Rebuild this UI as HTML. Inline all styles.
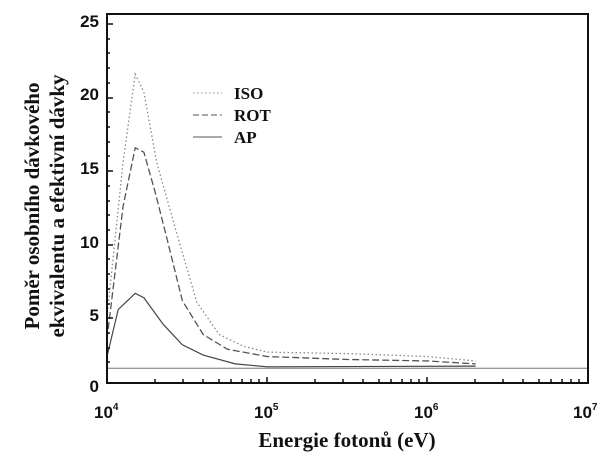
<!DOCTYPE html><html><head><style>body{margin:0;background:#fff}svg{display:block}</style></head><body>
<svg width="605" height="460" xmlns="http://www.w3.org/2000/svg">
<g font-family="Liberation Sans, sans-serif" font-weight="bold" font-size="17" fill="#111">
<text x="99" y="27" text-anchor="end">25</text>
<text x="99" y="100" text-anchor="end">20</text>
<text x="99" y="174" text-anchor="end">15</text>
<text x="99" y="248" text-anchor="end">10</text>
<text x="99" y="321" text-anchor="end">5</text>
<text x="99" y="392" text-anchor="end">0</text>
<text x="94" y="418">10<tspan font-size="10" dy="-8">4</tspan></text>
<text x="254" y="418">10<tspan font-size="10" dy="-8">5</tspan></text>
<text x="414" y="418">10<tspan font-size="10" dy="-8">6</tspan></text>
<text x="573" y="418">10<tspan font-size="10" dy="-8">7</tspan></text>
</g>
<g font-family="Liberation Serif, serif" font-weight="bold" font-size="21" fill="#111">
<text x="347" y="447" text-anchor="middle">Energie fotonů (eV)</text>
<text transform="translate(39,206) rotate(-90)" text-anchor="middle">Poměr osobního dávkového</text>
<text transform="translate(64,206) rotate(-90)" text-anchor="middle">ekvivalentu a efektivní dávky</text>
<text x="234" y="99" font-size="17">ISO</text>
<text x="234" y="121" font-size="17">ROT</text>
<text x="234" y="143" font-size="17">AP</text>
</g>
<g stroke="#555" fill="none">
<line x1="193" y1="93" x2="222" y2="93" stroke-dasharray="1.5,2.5" stroke="#888"/>
<line x1="193" y1="115" x2="222" y2="115" stroke-dasharray="6,3"/>
<line x1="193" y1="137" x2="222" y2="137"/>
<line x1="107" y1="368.3" x2="588" y2="368.3" stroke="#777"/>
</g>
<g transform="translate(107,383) scale(160.3,-14.7)" fill="none">
<polyline vector-effect="non-scaling-stroke" stroke="#888" stroke-width="1.3" stroke-dasharray="1.5,2.5" points="0,4.5 0.1,15 0.176,21 0.23,19.8 0.31,15 0.44,10 0.56,5.5 0.7,3.3 0.85,2.5 1,2.1 1.5,2.0 2,1.8 2.3,1.5"/>
<polyline vector-effect="non-scaling-stroke" stroke="#555" stroke-width="1.3" stroke-dasharray="7,3" points="0,3 0.1,12 0.176,16 0.23,15.7 0.3,13 0.37,10 0.47,5.6 0.6,3.3 0.75,2.3 1,1.8 1.5,1.6 2,1.5 2.3,1.3"/>
<polyline vector-effect="non-scaling-stroke" stroke="#444" stroke-width="1.2" points="0,1.8 0.07,5 0.176,6.1 0.23,5.8 0.35,4 0.47,2.6 0.6,1.9 0.8,1.3 1,1.1 2.3,1.15"/>
</g>
<rect x="107" y="14" width="481" height="369" fill="none" stroke="#111" stroke-width="2"/>
<g stroke="#111" stroke-width="1.5">
<path d="M107,383v-6M155,383v-4M183,383v-4M203,383v-4M219,383v-4M231,383v-4M242,383v-4M251,383v-4M259,383v-4M267,383v-6M315,383v-4M343,383v-4M363,383v-4M379,383v-4M391,383v-4M402,383v-4M411,383v-4M419,383v-4M427,383v-6M475,383v-4M503,383v-4M523,383v-4M539,383v-4M551,383v-4M562,383v-4M571,383v-4M579,383v-4"/>
<path d="M107,24h6M107,98h6M107,171h6M107,245h6M107,318h6M107,39h3M107,53h3M107,68h3M107,83h3M107,112h3M107,127h3M107,142h3M107,156h3M107,186h3M107,201h3M107,215h3M107,230h3M107,259h3M107,274h3M107,289h3M107,304h3M107,333h3M107,348h3M107,362h3"/>
</g>
</svg>
</body></html>
